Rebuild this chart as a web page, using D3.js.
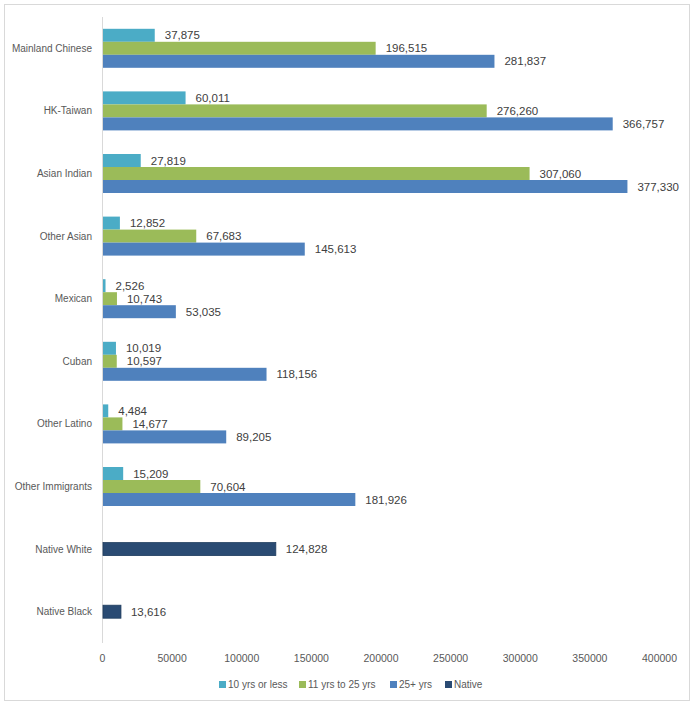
<!DOCTYPE html>
<html><head><meta charset="utf-8">
<script src="https://cdn.jsdelivr.net/npm/d3@7"></script>
<style>body{margin:0;background:#fff;} svg{font-family:"Liberation Sans",Arial,sans-serif;}</style>
</head><body><svg id="c" width="694" height="706"></svg>
<script>
const categories = ["Mainland Chinese","HK-Taiwan","Asian Indian","Other Asian","Mexican","Cuban","Other Latino","Other Immigrants","Native White","Native Black"];
const seriesNames = ["10 yrs or less","11 yrs to 25 yrs","25+ yrs","Native"];
const tenOrLess = [37875,60011,27819,12852,2526,10019,4484,15209,null,null];
const elevenTo25 = [196515,276260,307060,67683,10743,10597,14677,70604,null,null];
const over25 = [281837,366757,377330,145613,53035,118156,89205,181926,null,null];
const native = [null,null,null,null,null,null,null,null,124828,13616];
const xTicks = [0,50000,100000,150000,200000,250000,300000,350000,400000];
const colors = ["#4bacc6","#9bbb59","#4f81bd","#2a4b73"];

const svg = d3.select("#c");
svg.append("rect").attr("x",4.5).attr("y",4.5).attr("width",685).attr("height",696)
  .attr("fill","#fff").attr("stroke","#d9d9d9");

const x = d3.scaleLinear().domain([0,400000]).range([102,659]);
const y = d3.scaleBand().domain(categories).range([17,643]);
const bh = 13;

svg.append("line").attr("x1",x(0)+0.5).attr("x2",x(0)+0.5).attr("y1",17).attr("y2",643).attr("stroke","#d9d9d9");

const fmt = d3.format(",");
const all = [tenOrLess, elevenTo25, over25];
categories.forEach((c,i)=>{
  const center = y(c) + y.bandwidth()/2;
  const bars = [];
  if (native[i] != null) bars.push({v:native[i], s:3, y:center - bh/2});
  else all.forEach((arr,s)=>bars.push({v:arr[i], s:s, y:center - bh*1.5 + s*bh}));
  bars.forEach(b=>{
    svg.append("rect").attr("x",x(0)+1).attr("y",b.y).attr("width",x(b.v)-x(0)-1).attr("height",bh)
      .attr("fill",colors[b.s]).attr("stroke", b.s===3 ? "#1f3c5e" : "none").attr("stroke-width",0.8);
    svg.append("text").attr("x",x(b.v)+10).attr("y",b.y+bh/2).attr("dy","0.35em")
      .attr("font-size",11.5).attr("fill","#404040").text(fmt(b.v));
  });
  svg.append("text").attr("x",92).attr("y",center).attr("dy","0.35em").attr("text-anchor","end")
    .attr("font-size",10).attr("fill","#595959").text(c);
});

const xa = svg.append("g").attr("transform","translate(0,643)")
  .call(d3.axisBottom(x).tickValues(xTicks).tickFormat(d3.format("d")).tickSize(0).tickPadding(12));
xa.select(".domain").remove();
xa.selectAll("text").attr("font-size",10.5).attr("fill","#595959").attr("font-family","Liberation Sans,Arial,sans-serif");

const legX = [219,299,390,445];
seriesNames.forEach((n,i)=>{
  svg.append("rect").attr("x",legX[i]).attr("y",681).attr("width",7).attr("height",7).attr("fill",colors[i]);
  svg.append("text").attr("x",legX[i]+9).attr("y",684.5).attr("dy","0.35em").attr("font-size",10)
    .attr("fill","#595959").text(n);
});
</script></body></html>
